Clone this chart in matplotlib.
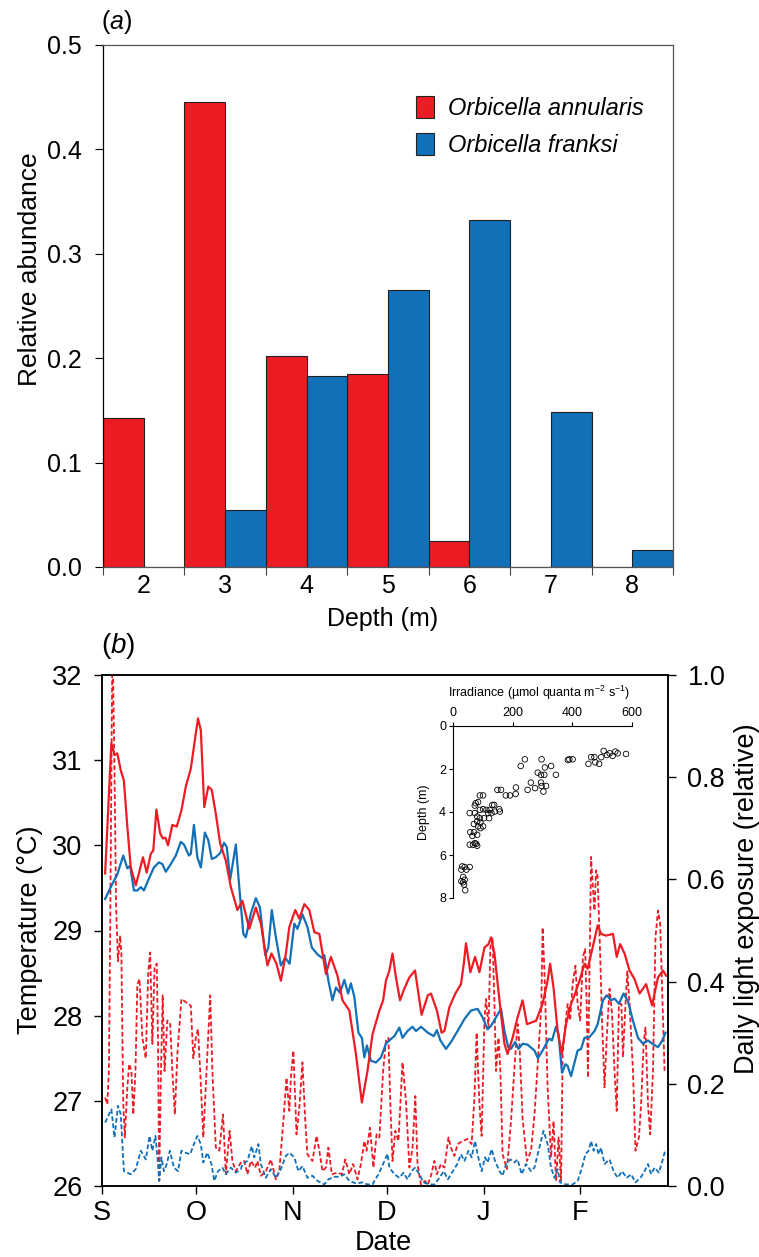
import numpy as np
import matplotlib
matplotlib.use("Agg")
import matplotlib.pyplot as plt
from matplotlib.patches import Patch
from matplotlib import font_manager as fm

# ---------------- data: panel (a) ----------------
depth_bins = [2, 3, 4, 5, 6, 7, 8]
annularis = [0.143, 0.445, 0.202, 0.185, 0.025, 0.0, 0.0]
franksi = [0.0, 0.055, 0.183, 0.265, 0.332, 0.148, 0.016]
a_yticks = [0.0, 0.1, 0.2, 0.3, 0.4, 0.5]

# ---------------- data: panel (b) ----------------
month_days = [0, 30, 61, 91, 122, 153]
month_labels = ["S", "O", "N", "D", "J", "F"]

red_temp_day = [1, 3, 4, 4.9, 6, 7, 8.1, 9.2, 10.8, 11.8, 13.1, 14.3, 15.6, 16.4, 17.4, 18.6, 19.5, 20.3,
                21.1, 22.5, 23.9, 25.4, 26.8, 28.4, 29.4, 30.7, 31.6, 32.7, 34.0, 35.1, 36.4, 37.8, 39.6,
                41.2, 43.3, 44.9, 47.1, 49.2, 50.8, 52.9, 54.2, 55.8, 57.2, 58.8, 59.9, 61.8, 63.1, 64.7,
                66.3, 67.9, 69.5, 71.6, 73.2, 75.3, 76.9, 79.1, 81.2, 83.1, 84.9, 86.5, 88.7, 89.9, 90.8,
                91.9, 92.9, 94.0, 95.3, 96.7, 98.3, 100.1, 102.2, 104.2, 105.2, 107.1, 108.6, 109.5, 111.1,
                113.0, 114.8, 115.7, 116.4, 117.8, 119.3, 120.7, 122.3, 123.6, 124.4, 125.5, 127.1, 128.7,
                129.7, 131.3, 132.9, 134.5, 135.9, 138.8, 140.9, 142.5, 143.3, 144.4, 145.7, 147.0, 148.4,
                150.0, 151.1, 152.7, 154.3, 155.3, 156.9, 158.5, 159.6, 161.2, 163.4, 164.6, 165.7, 167.1,
                168.7, 170.3, 171.9, 174.0, 175.9, 177.8, 179.4, 180.4]
red_temp = [29.67, 31.20, 31.06, 31.08, 30.88, 30.76, 30.22, 29.74, 29.53, 29.67, 29.86, 29.68, 29.90, 29.94,
            30.42, 30.14, 30.08, 30.09, 30.00, 30.24, 30.22, 30.41, 30.69, 30.90, 31.16, 31.49, 31.35, 30.45,
            30.69, 30.65, 30.37, 30.02, 29.82, 29.51, 29.24, 29.35, 29.02, 29.27, 29.08, 28.59, 28.73, 28.61,
            28.41, 28.73, 29.04, 29.24, 29.14, 29.31, 29.24, 28.98, 28.96, 28.49, 28.69, 28.47, 28.18, 28.06,
            27.55, 26.98, 27.35, 27.78, 28.06, 28.18, 28.41, 28.53, 28.73, 28.45, 28.18, 28.32, 28.45, 28.53,
            28.01, 28.24, 28.26, 28.06, 27.80, 27.82, 28.10, 28.26, 28.37, 28.61, 28.85, 28.51, 28.69, 28.51,
            28.80, 28.84, 28.92, 28.73, 28.18, 27.67, 27.55, 27.74, 27.98, 28.18, 27.90, 27.94, 28.14, 28.41,
            28.61, 28.33, 27.82, 27.55, 27.90, 28.14, 28.24, 28.41, 28.61, 28.55, 28.80, 29.06, 28.96, 28.94,
            28.96, 28.69, 28.84, 28.73, 28.53, 28.43, 28.26, 28.37, 28.12, 28.45, 28.53, 28.47]

blue_temp_day = [1, 2.8, 4.9, 6.8, 8.1, 9, 10.2, 11.3, 12.4, 13.4, 15, 16.6, 18.2, 19.3, 20.4, 22, 23.6, 25.2,
                 26.2, 27.8, 28.4, 29.4, 30.5, 31.6, 32.9, 34, 35.1, 36.4, 37.8, 39, 39.9, 41, 42.8, 43.9,
                 45.2, 46, 47.6, 49.2, 50.5, 52.2, 53.2, 54.3, 55.6, 57.2, 58.6, 60, 61.5, 62.5, 64.1, 65.7,
                 67.1, 68.9, 70.3, 71.1, 72.4, 73.7, 74.8, 76.1, 77.5, 78.7, 79.6, 80.7, 82, 83.1, 83.9, 84.7,
                 86, 87.6, 89.2, 90.8, 91.9, 93.5, 95.1, 96.1, 97.7, 99.3, 100.4, 102, 104.2, 106.1, 107.1,
                 108.2, 110, 111.6, 113.7, 115.9, 118, 120.1, 121.7, 123.3, 124.4, 126, 127.6, 128.7, 129.9,
                 130.8, 132.1, 133.2, 134.5, 136.1, 138.3, 139.4, 140.9, 142.9, 143.9, 145.2, 146, 147.1,
                 148.2, 148.9, 150, 151.1, 152.1, 153.2, 154.3, 155.9, 157.5, 158.5, 160.2, 161.4, 162.8,
                 163.9, 165.3, 166.8, 168.2, 169.8, 171.4, 173, 174.6, 176, 177.8, 179.2, 180.2]
blue_temp = [29.37, 29.51, 29.66, 29.88, 29.73, 29.76, 29.47, 29.47, 29.51, 29.47, 29.61, 29.74, 29.80, 29.78,
             29.69, 29.78, 29.88, 30.04, 30.01, 29.88, 29.90, 30.24, 29.86, 29.74, 30.15, 30.06, 29.84, 29.86,
             29.91, 30.03, 29.98, 29.60, 30.01, 29.51, 28.96, 28.92, 29.20, 29.38, 29.27, 28.71, 28.80, 29.24,
             28.92, 28.59, 28.68, 28.61, 29.08, 29.02, 29.19, 29.04, 28.80, 28.72, 28.68, 28.71, 28.41, 28.18,
             28.33, 28.27, 28.42, 28.26, 28.38, 28.22, 27.80, 27.74, 27.51, 27.65, 27.47, 27.45, 27.51, 27.67,
             27.71, 27.76, 27.86, 27.74, 27.82, 27.87, 27.82, 27.87, 27.80, 27.76, 27.83, 27.71, 27.61, 27.69,
             27.82, 27.96, 28.06, 28.08, 27.98, 27.84, 27.88, 27.98, 28.08, 27.82, 27.63, 27.61, 27.69, 27.61,
             27.67, 27.66, 27.59, 27.50, 27.59, 27.73, 27.71, 27.87, 27.78, 27.33, 27.43, 27.41, 27.29, 27.45,
             27.59, 27.61, 27.74, 27.75, 27.82, 27.90, 28.18, 28.24, 28.18, 28.20, 28.14, 28.26, 28.17, 27.94,
             27.74, 27.67, 27.71, 27.67, 27.63, 27.71, 27.80]

red_light_day = [1, 1.7, 2.2, 2.6, 3, 3.3, 3.6, 4, 4.5, 5.1, 5.8, 6.2, 6.8, 7.3, 8.1, 8.7, 9.4, 10, 10.7, 11.3,
                 12, 12.9, 14, 14.8, 15.4, 16.1, 16.8, 17.5, 17.9, 18.3, 18.8, 19.4, 20, 20.9, 21.8, 22.5,
                 23.3, 24.1, 25.4, 26.8, 28.4, 29.2, 30, 30.7, 31.4, 32.4, 33.7, 34.6, 35.3, 36.4, 37.5, 38.7,
                 39.6, 40.8, 41.7, 42.8, 44.4, 45.5, 46.5, 47.6, 49, 49.7, 50.8, 52.4, 54, 55.6, 56.7, 58, 59,
                 59.9, 60.4, 61.2, 62.2, 63.1, 64.1, 65, 65.7, 67.3, 68.6, 69.5, 70.5, 71.6, 72.4, 73.5, 75.3,
                 76.7, 77.8, 79.1, 80.3, 81.7, 82.8, 83.9, 84.6, 85.7, 86.8, 87.8, 88.7, 89.9, 90.8, 91.6,
                 92.2, 92.9, 93.8, 94.8, 96.1, 97.2, 98.3, 99.3, 100.2, 100.9, 102, 103.3, 104.2, 105.2, 106.3,
                 107.1, 108.4, 109.5, 110.8, 111.6, 112.7, 113.7, 115.3, 116.9, 118.2, 119.1, 119.8, 120.7,
                 121.4, 122.3, 122.8, 123.6, 124.2, 124.9, 125.5, 126, 126.8, 127.4, 128.1, 129.5, 130.8,
                 131.9, 132.9, 133.5, 134.5, 135.9, 137.2, 138.3, 139.4, 140.5, 140.9, 141.5, 142.5, 143.6,
                 144.4, 145.2, 146, 146.8, 147.3, 148.2, 148.9, 149.7, 150.5, 151.4, 152.1, 152.9, 153.8,
                 154.5, 155, 155.4, 155.9, 156.4, 156.9, 157.5, 158, 158.5, 159.3, 159.9, 160.7, 161.4, 162.3,
                 163.1, 163.9, 164.6, 165.3, 166.1, 166.6, 167.4, 168, 168.7, 169.8, 170.6, 171.7, 172.4,
                 173.2, 173.8, 174.6, 175.3, 176.2, 177, 177.8, 178.5, 179.1, 179.9]
red_light = [0.173, 0.160, 0.225, 0.487, 0.814, 1.05, 0.977, 0.81, 0.55, 0.44, 0.49, 0.454, 0.16, 0.095, 0.193,
             0.239, 0.225, 0.14, 0.225, 0.395, 0.405, 0.29, 0.25, 0.42, 0.457, 0.278, 0.428, 0.435, 0.29, 0.01,
             0.206, 0.373, 0.225, 0.324, 0.317, 0.225, 0.14, 0.258, 0.366, 0.36, 0.353, 0.25, 0.29, 0.307,
             0.225, 0.095, 0.258, 0.373, 0.225, 0.075, 0.069, 0.14, 0.023, 0.108, 0.049, 0.029, 0.046, 0.049,
             0.023, 0.049, 0.036, 0.049, 0.02, 0.029, 0.052, 0.013, 0.029, 0.127, 0.212, 0.147, 0.212, 0.265,
             0.101, 0.154, 0.242, 0.127, 0.062, 0.049, 0.098, 0.069, 0.029, 0.036, 0.075, 0.023, 0.026, 0.023,
             0.052, 0.023, 0.043, 0.013, 0.043, 0.088, 0.069, 0.114, 0.036, 0.101, 0.095, 0.225, 0.284, 0.29,
             0.16, 0.049, 0.108, 0.088, 0.242, 0.167, 0.036, 0.075, 0.176, 0.043, 0.003, 0.01, 0.003, 0.02,
             0.049, 0.023, 0.043, 0.036, 0.095, 0.075, 0.059, 0.082, 0.088, 0.092, 0.082, 0.173, 0.30, 0.16,
             0.098, 0.324, 0.366, 0.31, 0.467, 0.487, 0.356, 0.225, 0.29, 0.225, 0.062, 0.033, 0.127, 0.232,
             0.317, 0.278, 0.131, 0.049, 0.069, 0.14, 0.245, 0.356, 0.506, 0.42, 0.193, 0.056, 0.127, 0.01,
             0.095, 0.01, 0.258, 0.317, 0.356, 0.324, 0.395, 0.431, 0.356, 0.324, 0.448, 0.464, 0.356, 0.212,
             0.42, 0.644, 0.592, 0.539, 0.618, 0.605, 0.454, 0.324, 0.193, 0.29, 0.386, 0.337, 0.225, 0.147,
             0.356, 0.356, 0.252, 0.356, 0.42, 0.356, 0.225, 0.069, 0.095, 0.16, 0.278, 0.31, 0.16, 0.101,
             0.225, 0.487, 0.539, 0.513, 0.389, 0.225]

blue_light_day = [1, 2.2, 3, 4, 5.1, 6, 7, 9.2, 10.8, 12.4, 14, 15.2, 16.1, 17.1, 17.9, 18.3, 19, 19.8, 20.7,
                  21.7, 23, 24.3, 25.4, 26.8, 28.2, 29.4, 30.5, 31.6, 32.4, 33.7, 35, 35.9, 37.1, 38.5, 39.6,
                  41.2, 42.8, 44.4, 44.9, 46.5, 47.9, 48.7, 50, 50.8, 52.4, 54, 55.6, 57.2, 58.8, 60, 61.5,
                  62.8, 64.1, 65.7, 67.3, 68.9, 71.1, 72.4, 74.3, 75.9, 77.5, 79.1, 81.2, 83.3, 84.9, 86.5,
                  88.4, 89.9, 91.3, 91.9, 93.5, 95.1, 96.4, 97.7, 99, 100.1, 101.5, 102.8, 104.7, 106.3, 107.9,
                  109.3, 110.6, 112.2, 113.6, 114.8, 115.9, 117.2, 118.2, 119.3, 120.1, 121.4, 122.5, 123.3,
                  124.6, 125.7, 127.1, 128.1, 129.2, 130.6, 131.9, 132.9, 134.2, 135.6, 137.2, 138.3, 139.6,
                  141.2, 142.5, 143.6, 144.7, 145.7, 146.5, 148.4, 150.5, 152.1, 153.5, 154.6, 155.6, 156.4,
                  157.2, 158, 158.8, 159.6, 160.7, 162.3, 163.6, 164.9, 166.3, 167.8, 169.2, 170.6, 172.2,
                  173.5, 174.6, 175.6, 176.7, 178.1, 179.2, 180.2]
blue_light = [0.124, 0.14, 0.15, 0.095, 0.157, 0.14, 0.029, 0.023, 0.033, 0.069, 0.052, 0.098, 0.069, 0.098,
              0.043, 0.01, 0.056, 0.029, 0.043, 0.069, 0.036, 0.029, 0.069, 0.065, 0.062, 0.082, 0.098, 0.082,
              0.046, 0.065, 0.043, 0.01, 0.029, 0.036, 0.023, 0.036, 0.026, 0.033, 0.043, 0.049, 0.078, 0.056,
              0.082, 0.043, 0.016, 0.033, 0.016, 0.033, 0.059, 0.065, 0.056, 0.029, 0.039, 0.016, 0.02, 0.01,
              0.003, 0.013, 0.018, 0.018, 0.023, 0.01, 0.005, 0.007, 0.003, 0.003, 0.023, 0.043, 0.063, 0.036,
              0.023, 0.016, 0.026, 0.013, 0.029, 0.036, 0.023, 0.007, 0.003, 0.003, 0.016, 0.029, 0.013, 0.029,
              0.043, 0.062, 0.049, 0.069, 0.056, 0.088, 0.062, 0.029, 0.056, 0.046, 0.072, 0.049, 0.029, 0.02,
              0.043, 0.052, 0.046, 0.052, 0.023, 0.043, 0.029, 0.036, 0.069, 0.108, 0.082, 0.036, 0.016, 0.033,
              0.007, 0.003, 0.003, 0.01, 0.036, 0.062, 0.069, 0.088, 0.069, 0.082, 0.062, 0.075, 0.043, 0.052,
              0.029, 0.016, 0.029, 0.016, 0.023, 0.007, 0.016, 0.029, 0.043, 0.023, 0.036, 0.026, 0.049, 0.072]

# ---------------- data: inset ----------------
irradiance = [505, 516, 525, 535, 544, 552, 580, 497, 463, 474, 477, 454, 490, 401, 390, 385, 297, 241, 227,
              308, 329, 345, 284, 295, 306, 261, 250, 275, 295, 297, 312, 303, 211, 210, 149, 161, 177, 191,
              90, 101, 76, 84, 73, 132, 138, 155, 157, 56, 73, 90, 101, 112, 123, 118, 129, 140, 104, 90, 121,
              81, 70, 81, 92, 101, 92, 84, 58, 70, 65, 81, 56, 73, 78, 81, 67, 28, 39, 56, 31, 45, 34, 39, 28,
              37, 34, 41]
inset_depth = [1.16, 1.35, 1.27, 1.39, 1.19, 1.27, 1.30, 1.45, 1.45, 1.45, 1.69, 1.76, 1.76, 1.55, 1.55, 1.58,
               1.55, 1.55, 1.86, 1.93, 1.86, 2.27, 2.17, 2.27, 2.27, 2.63, 2.97, 2.89, 2.63, 2.79, 2.79, 3.05,
               2.86, 3.16, 2.97, 2.97, 3.23, 3.23, 3.23, 3.23, 3.59, 3.54, 3.70, 3.67, 3.67, 3.87, 3.98, 4.05,
               4.05, 3.90, 3.87, 3.90, 3.90, 4.05, 4.05, 3.98, 4.29, 4.29, 4.29, 4.21, 4.56, 4.44, 4.49, 4.67,
               4.75, 4.67, 4.94, 4.94, 5.11, 5.06, 5.52, 5.45, 5.48, 5.57, 5.52, 6.68, 6.56, 6.56, 6.53, 6.68,
               7.02, 7.15, 7.22, 7.38, 7.27, 7.64]

# ---------------- style ----------------
RED = "#ED1C24"
BLUE = "#1170B8"
W, H = 759, 1257

names = {f.name for f in fm.fontManager.ttflist}
REG = "Liberation Sans" if "Liberation Sans" in names else "DejaVu Sans"
if "Liberation Sans Narrow" in names:
    NARROW, NSIZE = "Liberation Sans Narrow", 21
else:
    NARROW, NSIZE = REG, 18

plt.rcParams["font.family"] = [REG, "DejaVu Sans"]
plt.rcParams["mathtext.fontset"] = "custom"
plt.rcParams["mathtext.rm"] = REG
plt.rcParams["mathtext.it"] = REG + ":italic"

fig = plt.figure(figsize=(W / 100, H / 100), dpi=100)


def fx(x):
    return x / W


def fy(y):
    return 1 - y / H


def rect(l, t, r, b):
    return [fx(l), fy(b), fx(r) - fx(l), fy(t) - fy(b)]


# ================= panel (a) =================
axa = fig.add_axes(rect(103, 45, 673, 567))
x = np.array(depth_bins, dtype=float)
axa.bar(x - 0.25, annularis, width=0.5, color=RED, edgecolor="#222222", linewidth=0.8, zorder=2)
axa.bar(x + 0.25, franksi, width=0.5, color=BLUE, edgecolor="#222222", linewidth=0.8, zorder=2)
axa.set_xlim(1.5, 8.5)
axa.set_ylim(0, 0.5)
axa.set_yticks(a_yticks)
axa.set_yticklabels([f"{v:.1f}" for v in a_yticks], fontfamily=NARROW, fontsize=NSIZE)
axa.set_xticks(np.arange(1.5, 9.0, 1.0))
axa.set_xticklabels([])
axa.set_xticks(x, minor=True)
axa.set_xticklabels([str(d) for d in depth_bins], minor=True, fontfamily=NARROW, fontsize=NSIZE)
axa.tick_params(axis="x", which="minor", length=0, pad=5)
axa.tick_params(axis="x", which="major", direction="out", length=6, width=0.8, color="#444444")
axa.tick_params(axis="y", direction="out", length=6, width=0.8, pad=9)
for s in ["top", "right", "bottom"]:
    axa.spines[s].set_color("#555555")
    axa.spines[s].set_linewidth(0.9)
axa.spines["left"].set_linewidth(0.9)

handles = [Patch(facecolor=RED, edgecolor="#222222", linewidth=0.8),
           Patch(facecolor=BLUE, edgecolor="#222222", linewidth=0.8)]
axa.legend(handles, ["Orbicella annularis", "Orbicella franksi"], loc="upper left",
           bbox_to_anchor=((416 - 103) / 570, (567 - 96) / 522), frameon=False,
           prop=dict(family=NARROW, style="italic", size=NSIZE - 1),
           handlelength=0.75, handleheight=1.05, handletextpad=0.6, labelspacing=0.55,
           borderaxespad=0, borderpad=0)

fig.text(fx(383), fy(619), "Depth (m)", ha="center", va="center", fontfamily=NARROW, fontsize=NSIZE)
fig.text(fx(30), fy(269), "Relative abundance", ha="center", va="center", rotation=90, fontsize=19)
fig.text(fx(101), fy(22), r"($\mathit{a}$)", ha="left", va="center", fontfamily=NARROW, fontsize=NSIZE)

# ================= panel (b) =================
axb = fig.add_axes(rect(102, 675, 668, 1186))
axl = axb.twinx()
axb.set_zorder(axl.get_zorder() + 1)
axb.patch.set_visible(False)

axl.plot(red_light_day, red_light, color=RED, lw=1.3, ls=(0, (2.6, 1.4)))
axl.plot(blue_light_day, blue_light, color=BLUE, lw=1.3, ls=(0, (2.6, 1.4)))
axb.plot(blue_temp_day, blue_temp, color=BLUE, lw=1.6)
axb.plot(red_temp_day, red_temp, color=RED, lw=1.6)

axb.set_xlim(0, 181)
axb.set_ylim(26, 32)
axl.set_ylim(0, 1.0)
axb.set_yticks(range(26, 33))
axb.set_yticklabels([str(v) for v in range(26, 33)], fontsize=19.5)
axl.set_yticks([0, 0.2, 0.4, 0.6, 0.8, 1.0])
axl.set_yticklabels(["0.0", "0.2", "0.4", "0.6", "0.8", "1.0"], fontsize=19.5)
axb.set_xticks(month_days)
axb.set_xticklabels(month_labels, fontsize=19.5)
axb.tick_params(axis="y", direction="out", length=6, width=1.0, pad=8)
axb.tick_params(axis="x", direction="out", length=6, width=1.0, pad=4)
axl.tick_params(axis="y", direction="out", length=6, width=1.0, pad=8)
for a in (axb, axl):
    for s in a.spines.values():
        s.set_linewidth(1.1)

fig.text(fx(383), fy(1243), "Date", ha="center", va="center", fontsize=19.5)
fig.text(fx(30), fy(930), "Temperature (\u00b0C)", ha="center", va="center", rotation=90, fontsize=19.5)
fig.text(fx(747), fy(899), "Daily light exposure (relative)", ha="center", va="center",
         rotation=90, fontsize=19.5)
fig.text(fx(101), fy(646), r"($\mathit{b}$)", ha="left", va="center", fontsize=20)

# ================= inset =================
axi = fig.add_axes(rect(453, 726, 632, 898))
axi.patch.set_visible(False)
axi.scatter(irradiance, inset_depth, s=16, facecolors="none", edgecolors="black", linewidths=0.6)
axi.set_xlim(0, 600)
axi.set_ylim(8, 0)
axi.xaxis.tick_top()
axi.set_xticks([0, 200, 400, 600])
axi.set_yticks([0, 2, 4, 6, 8])
axi.tick_params(labelsize=9, direction="out", length=3, width=0.8, pad=2)
axi.spines["right"].set_visible(False)
axi.spines["bottom"].set_visible(False)
for s in ("left", "top"):
    axi.spines[s].set_linewidth(0.8)
fig.text(fx(539), fy(693), r"Irradiance (µmol quanta m$^{-2}$ s$^{-1}$)", ha="center", va="center",
         fontsize=9)
fig.text(fx(424), fy(812), "Depth (m)", ha="center", va="center", rotation=90, fontsize=9)

fig.savefig("out.png", dpi=100)
